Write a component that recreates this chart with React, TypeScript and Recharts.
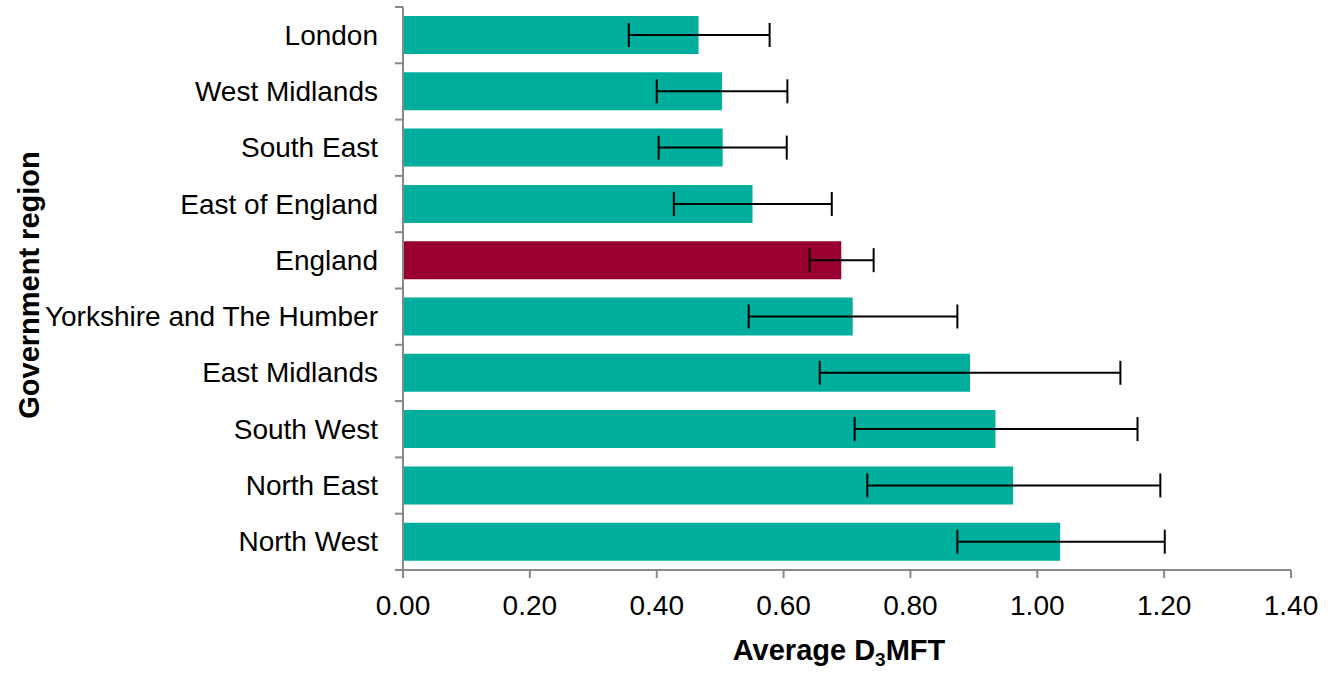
import { BarChart, Bar, XAxis, YAxis, ErrorBar, Cell } from "recharts";

const regions = [
  "London",
  "West Midlands",
  "South East",
  "East of England",
  "England",
  "Yorkshire and The Humber",
  "East Midlands",
  "South West",
  "North East",
  "North West",
];
const means = [0.466, 0.503, 0.504, 0.551, 0.691, 0.709, 0.894, 0.934, 0.962, 1.036];
const lowerCI = [0.356, 0.4, 0.403, 0.427, 0.641, 0.545, 0.657, 0.712, 0.732, 0.874];
const upperCI = [0.578, 0.606, 0.605, 0.676, 0.742, 0.874, 1.131, 1.158, 1.194, 1.201];
const xTicks = [0, 0.2, 0.4, 0.6, 0.8, 1.0, 1.2, 1.4];
const highlight = "England";

const W = 1335;
const H = 673;
const MARGIN = { top: 7, right: 44, bottom: 0, left: 0 };
const Y_AXIS_W = 403;
const X_AXIS_H = 103;
const PLOT_H = H - MARGIN.top - MARGIN.bottom - X_AXIS_H;
const BAND = PLOT_H / regions.length;

const FONT = '"Liberation Sans", Arial, sans-serif';
const TEAL = "#00AE9D";
const CRIMSON = "#990030";
const AXIS = "#898989";

const data = regions.map((region, i) => ({
  region,
  value: means[i],
  err: [means[i] - lowerCI[i], upperCI[i] - means[i]],
}));

function RegionTick(props: any) {
  const { y, payload, index } = props;
  const ax = Y_AXIS_W;
  const top = y - BAND / 2;
  return (
    <g>
      <line x1={ax - 8} x2={ax} y1={top} y2={top} stroke={AXIS} strokeWidth={2} />
      {index === regions.length - 1 && (
        <line x1={ax - 8} x2={ax} y1={top + BAND} y2={top + BAND} stroke={AXIS} strokeWidth={2} />
      )}
      <text
        x={ax - 25}
        y={y}
        textAnchor="end"
        dominantBaseline="central"
        fontFamily={FONT}
        fontSize={28}
        fill="#000"
      >
        {payload.value}
      </text>
    </g>
  );
}

export default function App() {
  return (
    <div style={{ position: "absolute", left: 0, top: 0, background: "#fff" }}>
      <BarChart
        width={W}
        height={H}
        data={data}
        layout="vertical"
        margin={MARGIN}
        barSize={38}
      >
        <XAxis
          type="number"
          domain={[0, 1.4]}
          ticks={xTicks}
          interval={0}
          tickFormatter={(v: number) => v.toFixed(2)}
          height={X_AXIS_H}
          stroke={AXIS}
          axisLine={{ stroke: AXIS, strokeWidth: 2 }}
          tickLine={{ stroke: AXIS, strokeWidth: 2 }}
          tickSize={8}
          tickMargin={17}
          tick={{ fill: "#000", fontSize: 28, fontFamily: FONT }}
          label={{
            content: () => (
              <text
                x={839}
                y={660}
                textAnchor="middle"
                fontFamily={FONT}
                fontSize={29}
                fontWeight="bold"
                fill="#000"
              >
                Average D
                <tspan fontSize={19} dy={6}>3</tspan>
                <tspan dy={-6}>MFT</tspan>
              </text>
            ),
          }}
        />
        <YAxis
          type="category"
          dataKey="region"
          width={Y_AXIS_W}
          axisLine={{ stroke: AXIS, strokeWidth: 2 }}
          tickLine={false}
          interval={0}
          tick={<RegionTick />}
          label={{
            content: () => (
              <text
                x={29}
                y={285}
                transform="rotate(-90 29 285)"
                textAnchor="middle"
                dominantBaseline="central"
                fontFamily={FONT}
                fontSize={29}
                fontWeight="bold"
                fill="#000"
              >
                Government region
              </text>
            ),
          }}
        />
        <Bar dataKey="value" isAnimationActive={false}>
          {data.map((d) => (
            <Cell key={d.region} fill={d.region === highlight ? CRIMSON : TEAL} />
          ))}
          <ErrorBar
            dataKey="err"
            direction="x"
            width={12}
            stroke="#000"
            strokeWidth={2}
            isAnimationActive={false}
          />
        </Bar>
      </BarChart>
    </div>
  );
}
